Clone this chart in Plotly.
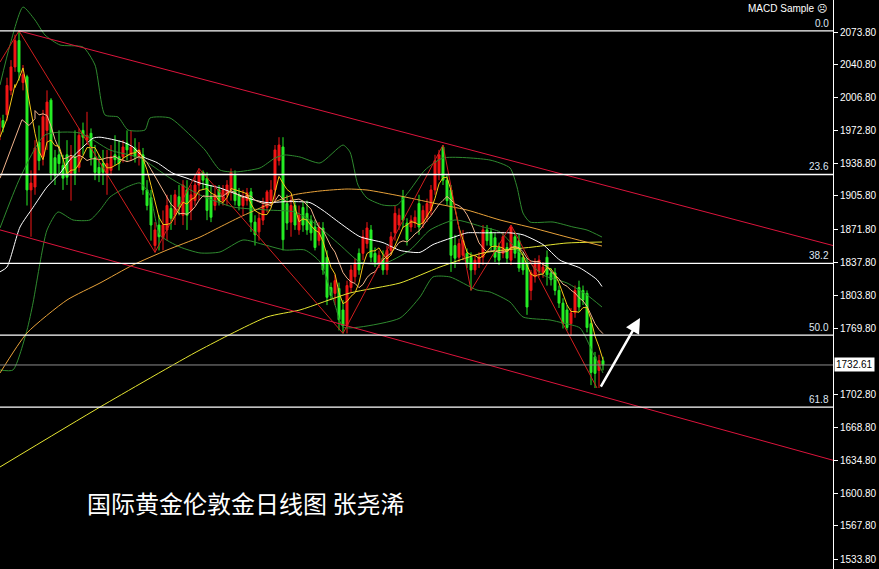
import plotly.graph_objects as go
import pandas as pd

# ---- candle data (daily gold, price units) ----
opens = [1963,1983,1989,2014,2038,2065,2022,2028,1912,1915,1961,1946,1973,2004,1945,1948,1937,1948,1929,1946,
         1935,1973,1963,1970,1945,1935,1939,1929,1932,1948,1946,1946,1960,1948,1955,1946,1948,1912,1904,1855,
         1876,1863,1871,1893,1886,1905,1886,1912,1891,1901,1917,1930,1924,1905,1896,1912,1901,1907,1912,1927,
         1907,1896,1901,1910,1879,1869,1881,1894,1901,1912,1942,1956,1898,1879,1896,1871,1894,1888,1881,1874,
         1860,1873,1843,1812,1806,1811,1789,1773,1812,1823,1847,1847,1857,1871,1847,1837,1842,1830,1850,1868,
         1876,1905,1878,1874,1878,1898,1878,1884,1891,1912,1929,1956,1922,1912,1855,1843,1845,1847,1843,1830,
         1837,1843,1871,1869,1863,1853,1847,1853,1840,1864,1860,1843,1837,1809,1823,1828,1827,1843,1827,1827,
         1809,1796,1789,1775,1786,1812,1809,1806,1775,1741,1727,1737]
highs = [1994,1989,2027,2045,2071,2075,2040,2030,1932,1963,1978,1994,2014,2006,1953,1973,1948,1963,1958,1973,
         1975,1981,1992,1975,1958,1948,1953,1953,1958,1968,1963,1963,1973,1973,1965,1961,1955,1922,1912,1879,
         1886,1891,1907,1907,1912,1917,1922,1922,1917,1927,1934,1932,1930,1917,1917,1917,1917,1922,1934,1932,
         1914,1912,1914,1914,1886,1889,1904,1912,1922,1958,1966,1966,1907,1907,1901,1896,1901,1901,1886,1881,
         1879,1879,1850,1817,1825,1817,1799,1819,1835,1842,1852,1871,1879,1876,1853,1850,1850,1855,1869,1896,
         1893,1912,1883,1886,1891,1907,1896,1903,1917,1948,1953,1958,1927,1917,1866,1862,1871,1852,1848,1845,
         1848,1876,1876,1873,1868,1858,1869,1858,1876,1869,1866,1848,1842,1830,1842,1845,1838,1850,1832,1832,
         1814,1801,1794,1791,1814,1819,1814,1809,1781,1746,1743,1741]
lows = [1953,1971,1983,2009,2033,2024,2014,1896,1864,1907,1932,1937,1953,1922,1917,1927,1912,1917,1901,1917,
        1930,1948,1958,1937,1922,1920,1917,1907,1927,1937,1932,1940,1942,1942,1940,1937,1907,1891,1860,1848,
        1850,1850,1860,1871,1876,1886,1876,1871,1881,1896,1901,1912,1881,1879,1891,1896,1896,1896,1901,1896,
        1891,1886,1896,1869,1855,1860,1876,1889,1896,1901,1937,1850,1871,1864,1871,1866,1869,1866,1860,1850,
        1855,1825,1794,1799,1794,1768,1765,1765,1807,1817,1825,1840,1852,1838,1833,1832,1825,1825,1845,1860,
        1871,1873,1855,1869,1873,1866,1873,1879,1886,1907,1922,1917,1896,1828,1832,1838,1840,1832,1809,1825,
        1832,1835,1855,1850,1838,1835,1842,1837,1835,1842,1828,1825,1784,1799,1817,1823,1822,1814,1814,1804,
        1791,1770,1768,1763,1781,1787,1794,1766,1712,1709,1709,1727]
closes = [1986,1976,2019,2038,2065,2033,2030,1912,1919,1955,1942,1987,2002,1929,1927,1939,1924,1925,1946,1929,
          1968,1966,1968,1945,1930,1929,1930,1939,1946,1943,1939,1956,1953,1956,1946,1953,1912,1896,1876,1871,
          1864,1876,1896,1883,1907,1894,1917,1886,1907,1917,1930,1922,1891,1884,1907,1901,1912,1917,1930,1901,
          1896,1904,1909,1879,1866,1883,1896,1910,1912,1953,1958,1861,1878,1896,1876,1886,1876,1871,1868,1853,
          1874,1830,1802,1804,1819,1779,1773,1814,1830,1837,1830,1864,1873,1843,1838,1845,1830,1850,1864,1888,
          1886,1881,1861,1881,1884,1874,1891,1898,1912,1942,1948,1922,1901,1845,1842,1857,1860,1837,1830,1840,
          1843,1871,1860,1855,1843,1840,1864,1842,1874,1847,1832,1830,1792,1827,1837,1840,1833,1825,1820,1809,
          1796,1775,1771,1786,1809,1792,1799,1771,1725,1724,1737,1732.61]
bar_index = list(range(len(closes)))
last_price = 1732.61

# ---- indicator lines (bar index, price) ----
white_x = [0.25,2,5.25,8.5,12,15.25,17.75,21,23.5,25.25,31,33.5,36,39.5,43.5,47,50.25,55.25,58.5,63.5,67,72,
           77.75,81,85.25,90.25,96,100.25,105.25,108.5,114,117,121,127.75,131,136,140.25,145.25,149.5,150.75]
white_y = [1828,1833,1874,1894,1915,1929,1943,1956,1965,1966,1961,1956,1946,1940,1929,1924,1919,1914,1909,1902,
           1899,1900,1899,1891,1878,1864,1858,1850,1848,1856,1864,1868,1868,1868,1866,1856,1840,1832,1820,1813]

orange_x = [0.25,7,17,25.25,33.5,42,50.25,55.25,60.25,67,73.5,80.25,87,92,100.25,108.5,117,125.25,133.5,142,150.75]
orange_y = [1724.4,1765.4,1799.2,1816.6,1835.1,1850.4,1863.7,1874,1884.2,1896.5,1906.8,1910.9,1912.9,1911.9,
            1905.8,1898.6,1891.4,1881.2,1873,1863.7,1854.5]

long_x = [0.25,25.25,50.25,67,75.25,87.75,100.25,110.25,121,133.5,142,150.75]
long_y = [1628.1,1689.5,1748,1781.8,1789,1806.4,1816.6,1833,1847.4,1853.5,1857.6,1858.6]

bb_up_x = [0.25,2.75,6,9,11.5,15.25,21,24,26.5,29.75,32.25,36.5,37.75,42.75,47.75,51.5,55.25,59,65.25,69,71.5,
           75.25,80.25,86,87.75,89.75,92,96,99.5,102.75,106.5,111,122.75,127.75,129.5,131,132.75,138.5,143.5,147,150.75]
bb_up_y = [2019.5,2060.5,2099.4,2086.1,2070.7,2060.5,2058.4,2040,1988.8,1986.7,1973.4,1973.4,1985.7,1985.7,1968.3,
           1952.9,1932.4,1930.4,1934.5,1944.7,1947.8,1945.7,1939.6,1958,1950.8,1917,1903.7,1896.5,1896.5,1911.9,
           1932.4,1944.7,1942.6,1934.5,1915,1888.3,1879.1,1879.1,1874,1870.9,1863.7]

bb_mid_x = [0.25,5.25,11.5,20.25,27.75,35.25,42.75,50.25,58.5,67,74,78.5,85.25,90.25,96,102.75,107.75,114,121,
            125.25,130.25,136,142,147,150.75]
bb_mid_y = [1873,1924.2,1968.3,1970.3,1952.9,1944.7,1924.2,1906.8,1894.5,1891.4,1889.4,1879.1,1855.6,1838.1,
            1836.1,1850.4,1870.9,1881.2,1874,1868.9,1847.4,1824.8,1816.6,1804.3,1792]

bb_lo_x = [0.25,3.5,7,8.5,10.25,12,14.75,18.5,22.75,25.25,27.75,32,35.25,37.75,40.25,45.25,50.25,55.25,61,66.5,
           71.5,76.5,80.25,84,86,90.25,100.25,105.25,108.5,112.75,119.5,122.75,127.75,131,137.75,141,145.25,148.5,151]
bb_lo_y = [1727.5,1727.5,1768.4,1796.1,1837.1,1870.9,1889.4,1881.2,1881.2,1891.4,1904.7,1915,1919.1,1906.8,
           1865.8,1853.5,1847.4,1848.4,1860.7,1855.6,1850.4,1850.4,1838.1,1794.1,1771.5,1771.5,1780.7,1802.3,
           1822.8,1822.8,1809.4,1807.4,1797.1,1781.8,1778.7,1775.6,1770.5,1744.9,1724.4]

# early part of the short averages (before enough bars are on screen)
ma5_head_x = [0.25, 2, 4]
ma5_head_y = [1966, 1985, 2020]
ma10_head_x = [0.25, 3, 5.75, 7.5, 9]
ma10_head_y = [1924, 1955, 1984, 1978, 1985]

zigzag_x = [0.25,5,39,50,86,111,118,128,149.5]
zigzag_y = [2043,2075,1848,1934,1765,1958,1809,1876,1709]

chan_up_x = [5,208.5]
chan_up_y = [2075,1855]
chan_lo_x = [0.25,208.5]
chan_lo_y = [1871,1635]

fib_levels = [2075.0,1927.8,1836.7,1763.1,1689.5]
fib_labels = ["0.0","23.6","38.2","50.0","61.8"]

tick_vals = [2073.8,2040.8,2006.8,1972.8,1938.8,1905.8,1871.8,1837.8,1803.8,1769.8,
             1702.8,1668.8,1634.8,1600.8,1567.8,1533.8]

arrow_tail = (150.25, 1709.0)
arrow_tip = (160.25, 1780.7)

RED = "#f21616"
GREEN = "#26ee26"

fig = go.Figure()
fig.add_trace(go.Candlestick(
    x=bar_index, open=opens, high=highs, low=lows, close=closes,
    increasing=dict(line=dict(color=RED, width=1), fillcolor=RED),
    decreasing=dict(line=dict(color=GREEN, width=1), fillcolor=GREEN),
    whiskerwidth=0, hoverinfo="skip"))

cs = pd.Series(closes)
ma5 = cs.rolling(5).mean()
ma10 = cs.rolling(10).mean()

def line(x, y, color, w=1):
    fig.add_trace(go.Scatter(x=x, y=y, mode="lines", line=dict(color=color, width=w, shape="spline", smoothing=0.6),
                             hoverinfo="skip"))

GBAND = "#2f8a2f"
line(bb_up_x, bb_up_y, GBAND)
line(bb_mid_x, bb_mid_y, GBAND)
line(bb_lo_x, bb_lo_y, GBAND)
line(long_x, long_y, "#e6e632")
line(orange_x, orange_y, "#e8a23a")
line(white_x, white_y, "#ffffff")
ma10_x = ma10_head_x + bar_index[9:]
ma10_y = ma10_head_y + list(ma10[9:])
ma5_x = ma5_head_x + bar_index[4:]
ma5_y = ma5_head_y + list(ma5[4:])
fig.add_trace(go.Scatter(x=ma10_x, y=ma10_y, mode="lines", line=dict(color="#f2b48c", width=1), hoverinfo="skip"))
fig.add_trace(go.Scatter(x=ma5_x, y=ma5_y, mode="lines", line=dict(color="#f5c518", width=1), hoverinfo="skip"))

fig.add_trace(go.Scatter(x=zigzag_x, y=zigzag_y, mode="lines", line=dict(color="#d01e1e", width=1), hoverinfo="skip"))
fig.add_trace(go.Scatter(x=chan_up_x, y=chan_up_y, mode="lines", line=dict(color="#dc143c", width=1), hoverinfo="skip"))
fig.add_trace(go.Scatter(x=chan_lo_x, y=chan_lo_y, mode="lines", line=dict(color="#dc143c", width=1), hoverinfo="skip"))

shapes = []
for lv in fib_levels:
    shapes.append(dict(type="line", xref="paper", x0=0, x1=1, yref="y", y0=lv, y1=lv,
                       line=dict(color="white", width=1.3)))
shapes.append(dict(type="line", xref="paper", x0=0, x1=1, yref="y", y0=last_price, y1=last_price,
                   line=dict(color="#8c8c8c", width=1)))

annotations = []
for lv, lb in zip(fib_levels, fib_labels):
    annotations.append(dict(xref="paper", x=1, xanchor="right", xshift=-2, y=lv, yref="y", yanchor="bottom",
                            text=lb, showarrow=False, font=dict(color="#dfe6f2", size=10, family="Liberation Sans")))
annotations.append(dict(xref="paper", x=1, xanchor="left", xshift=1, y=last_price, yref="y", yanchor="middle",
                        text="1732.61", showarrow=False, bgcolor="white", borderpad=1,
                        font=dict(color="black", size=10, family="Liberation Sans")))
annotations.append(dict(xref="paper", x=0.995, xanchor="right", yref="paper", y=1, yanchor="top", yshift=-1,
                        text="MACD Sample ☹", showarrow=False,
                        font=dict(color="white", size=10, family="Liberation Sans")))
annotations.append(dict(xref="paper", x=85 / 833, xanchor="left", yref="paper", y=1 - 503 / 569, yanchor="middle",
                        text="国际黄金伦敦金日线图 张尧浠", showarrow=False,
                        font=dict(color="white", size=24, family="Noto Sans CJK SC")))
annotations.append(dict(x=arrow_tip[0], y=arrow_tip[1], xref="x", yref="y",
                        ax=arrow_tail[0], ay=arrow_tail[1], axref="x", ayref="y",
                        showarrow=True, arrowhead=2, arrowsize=1.2, arrowwidth=2.5, arrowcolor="white", text=""))

fig.update_layout(
    width=879, height=569, margin=dict(l=0, r=46, t=0, b=0),
    paper_bgcolor="black", plot_bgcolor="black", showlegend=False,
    shapes=shapes, annotations=annotations,
    xaxis=dict(range=[0.25, 208.5], visible=False, rangeslider=dict(visible=False), fixedrange=True),
    yaxis=dict(range=[1523.55, 2106.6], side="right", showgrid=False, zeroline=False,
               showline=True, linecolor="white", linewidth=1, ticks="outside", ticklen=4, tickcolor="white",
               tickvals=tick_vals, ticktext=["%.2f" % v for v in tick_vals],
               tickfont=dict(color="white", size=10, family="Liberation Sans"), fixedrange=True),
)

fig.write_html("out.html", config={"displayModeBar": False},
               post_script="document.body.style.margin='0px';document.body.style.padding='0px';"
                           "document.body.style.background='black';")
